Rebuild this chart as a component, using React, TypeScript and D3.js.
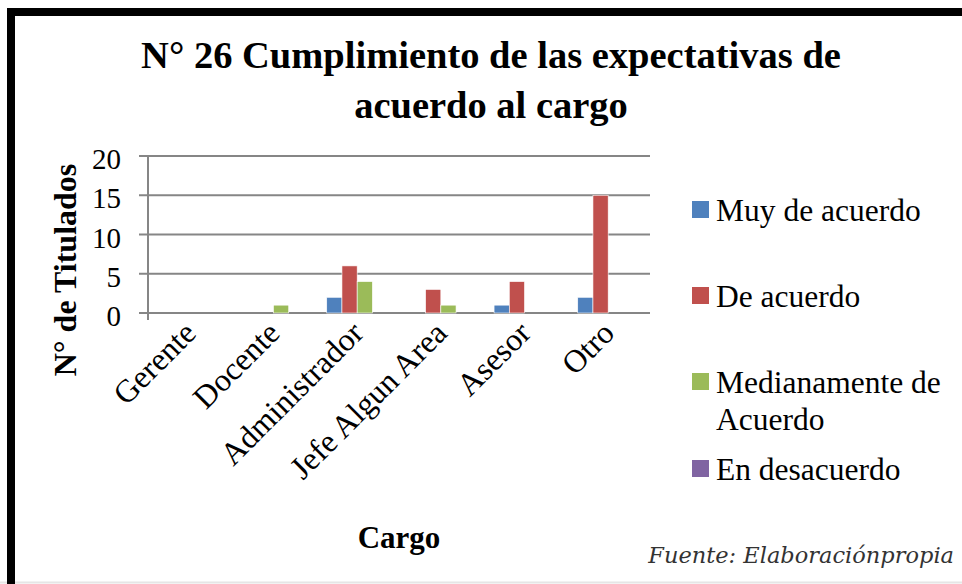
import React from "react";
import * as d3 from "d3";

const categories = ["Gerente", "Docente", "Administrador", "Jefe Algun Area", "Asesor", "Otro"];
const seriesNames = ["Muy de acuerdo", "De acuerdo", "Medianamente de Acuerdo", "En desacuerdo"];
const muyDeAcuerdo = [0, 0, 2, 0, 1, 2];
const deAcuerdo = [0, 0, 6, 3, 4, 15];
const medianamente = [0, 1, 4, 1, 0, 0];
const enDesacuerdo = [0, 0, 0, 0, 0, 0];
const seriesColors = ["#4F81BD", "#C0504D", "#9BBB59", "#8064A2"];
const yTicks = [0, 5, 10, 15, 20];
const titleLines = ["N° 26 Cumplimiento de las expectativas de", "acuerdo al cargo"];
const legendLines = [["Muy de acuerdo"], ["De acuerdo"], ["Medianamente de", "Acuerdo"], ["En desacuerdo"]];

export default function App() {
  const W = 962, H = 584;
  const left = 148, right = 650, top = 156, bottom = 313;
  const series = [muyDeAcuerdo, deAcuerdo, medianamente, enDesacuerdo];
  const x0 = d3.scaleBand().domain(categories).range([left, right]).paddingInner(0).paddingOuter(0);
  const groupW = x0.bandwidth();
  const barsW = groupW * 4 / (4 + 1.5);
  const x1 = d3.scaleBand().domain(seriesNames).range([0, barsW]);
  const y = d3.scaleLinear().domain([0, 20]).range([bottom, top]);
  const serif = "'Liberation Serif', 'Times New Roman', Times, serif";
  const legendY = [209, 295, 381, 468];

  return (
    <svg width={W} height={H} style={{ position: "absolute", left: 0, top: 0, background: "#fff" }}>
      <rect x={0} y={0} width={W} height={H} fill="#fff" />
      <line x1={0} y1={582.5} x2={W} y2={582.5} stroke="#e6e6e6" strokeWidth={2} />
      <path d={`M11,${H + 10} L11,12 L${W + 10},12`} fill="none" stroke="#000" strokeWidth={8} />
      {titleLines.map((t, i) => (
        <text key={i} x={491} y={68 + i * 50} textAnchor="middle" fontFamily={serif} fontWeight="bold" fontSize={38.5}>{t}</text>
      ))}
      {yTicks.map((t) => (
        <g key={t}>
          <line x1={139} x2={right} y1={y(t)} y2={y(t)} stroke="#868686" strokeWidth={2} />
          <text x={121} y={y(t) + 13} textAnchor="end" fontFamily={serif} fontSize={29}>{t}</text>
        </g>
      ))}
      <line x1={left} x2={left} y1={top} y2={bottom + 7} stroke="#868686" strokeWidth={2} />
      {categories.map((c, ci) => (
        <g key={c}>
          {series.map((s, si) => {
            const v = s[ci];
            if (v <= 0) return null;
            const bx = x0(c)! + (groupW - barsW) / 2 + x1(seriesNames[si])!;
            return <rect key={si} x={bx} y={y(v)} width={x1.bandwidth()} height={y(0) - y(v)} fill={seriesColors[si]} stroke="#fff" strokeWidth={0.6} />;
          })}
          <text transform={`translate(${x0(c)! + groupW / 2 + 8},${bottom + 22}) rotate(-45)`} textAnchor="end" fontFamily={serif} fontSize={32}>{c}</text>
        </g>
      ))}
      <text transform={`translate(76,270) rotate(-90)`} textAnchor="middle" fontFamily={serif} fontWeight="bold" fontSize={32}>N° de Titulados</text>
      <text x={399} y={548} textAnchor="middle" fontFamily={serif} fontWeight="bold" fontSize={31}>Cargo</text>
      {legendLines.map((lines, i) => (
        <g key={i}>
          <rect x={692} y={legendY[i] - 8} width={17} height={17} fill={seriesColors[i]} />
          {lines.map((l, j) => (
            <text key={j} x={716} y={legendY[i] + 12 + j * 37} fontFamily={serif} fontSize={31.5}>{l}</text>
          ))}
        </g>
      ))}
      <text x={954} y={563} textAnchor="end" fontFamily="'DejaVu Serif', serif" fontStyle="italic" fontSize={22.5} fill="#333">Fuente: Elaboraciónpropia</text>
    </svg>
  );
}
